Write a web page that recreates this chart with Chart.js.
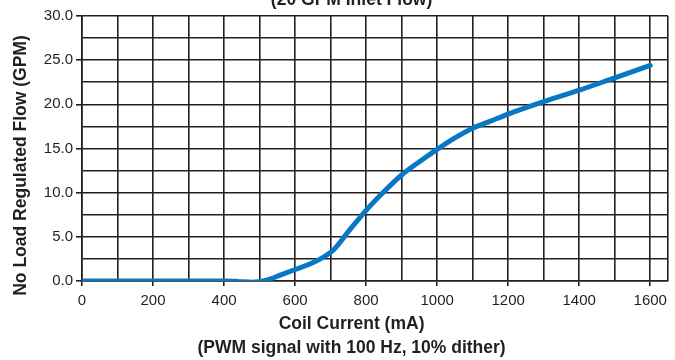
<!DOCTYPE html>
<html>
<head>
<meta charset="utf-8">
<script src="https://cdn.jsdelivr.net/npm/chart.js@4"></script>
<style>
  html, body { margin:0; padding:0; background:#fff; }
  #wrap { position:relative; width:675px; height:360px; }
</style>
</head>
<body>
<div id="wrap"><canvas id="chartFlow"></canvas></div>
<script>
/* -------- data -------- */
const currentMA = [0, 100, 200, 300, 400, 440, 480, 520, 560, 600, 640, 680, 710, 750,
                   800, 850, 900, 950, 1000, 1050, 1100, 1150, 1200, 1300, 1400, 1500, 1600];
const flowGPM   = [0, 0, 0, 0, 0, -0.05, -0.15, 0.1, 0.7, 1.3, 1.9, 2.7, 3.6, 5.6,
                   8.0, 10.1, 12.0, 13.5, 14.9, 16.2, 17.3, 18.1, 18.9, 20.3, 21.6, 23.0, 24.4];

const X_MIN = 0, X_MAX = 1650, X_STEP = 100, X_LABEL_STEP = 200, X_LAST_LABEL = 1600;
const Y_MIN = 0, Y_MAX = 30,   Y_STEP = 2.5, Y_LABEL_STEP = 5;

const TITLE   = '(20 GPM Inlet Flow)';
const Y_TITLE = 'No Load Regulated Flow (GPM)';
const X_TITLE = ['Coil Current (mA)', '(PWM signal with 100 Hz, 10% dither)'];

const inkClr  = '#231f20';
const lineClr = '#0878c4';
const bold    = 'bold 17.5px "Liberation Sans", Arial, sans-serif';
const tickFont = { family:'"Liberation Sans", Arial, sans-serif', size:15 };
const clear   = 'rgba(0,0,0,0)';

const $ = id => document.getElementById(id);
const isXLabel = v => v % X_LABEL_STEP === 0 && v <= X_LAST_LABEL;

/* -------- titles drawn on the canvas -------- */
const titlesPlugin = {
  id:'titles',
  afterDraw(chart) {
    const ctx = chart.ctx, a = chart.chartArea;
    ctx.save();
    ctx.fillStyle = inkClr;
    ctx.font = bold;
    ctx.textAlign = 'center';
    ctx.textBaseline = 'alphabetic';
    const cx = a.left + (a.right - a.left) * 0.46;
    ctx.fillText(TITLE, cx, 5);
    ctx.textBaseline = 'middle';
    ctx.fillText(X_TITLE[0], cx, 324);
    ctx.fillText(X_TITLE[1], cx, 348);
    ctx.translate(21, (a.top + a.bottom) / 2 + 17);
    ctx.rotate(-Math.PI / 2);
    ctx.fillText(Y_TITLE, 0, 0);
    ctx.restore();
  },
};

new Chart($('chartFlow'), {
  type:'line',
  data:{ datasets:[{
    data: currentMA.map((x, i) => ({ x, y: flowGPM[i] })),
    borderColor: lineClr, borderWidth: 5, borderCapStyle:'round', borderJoinStyle:'round',
    cubicInterpolationMode:'monotone', pointRadius:0, fill:false,
  }]},
  options:{
    responsive:true, maintainAspectRatio:false, animation:false,
    layout:{ padding:{ top:16, right:7, left:0, bottom:0 } },
    plugins:{ legend:{ display:false }, tooltip:{ enabled:false } },
    scales:{
      x:{ type:'linear', min:X_MIN, max:X_MAX,
          afterFit: s => { s.height = 79; },
          afterBuildTicks: s => {
            const t = [];
            for (let v = X_MIN; v <= X_LAST_LABEL; v += X_STEP) t.push({ value:v });
            t.push({ value:X_MAX });
            s.ticks = t;
          },
          ticks:{ autoSkip:false, maxRotation:0, color:inkClr, font:tickFont, padding:6,
                  callback: v => isXLabel(v) ? v : '' },
          grid:{ color:inkClr, lineWidth:1.6, tickLength:5,
                 tickColor: c => (c.tick && isXLabel(c.tick.value)) ? inkClr : clear },
          border:{ color:inkClr, width:1.6 } },
      y:{ min:Y_MIN, max:Y_MAX,
          afterFit: s => { s.width = 82; },
          ticks:{ stepSize:Y_STEP, autoSkip:false, color:inkClr, font:tickFont, padding:3,
                  callback: v => v % Y_LABEL_STEP === 0 ? v.toFixed(1) : '' },
          grid:{ color:inkClr, lineWidth:1.6, tickLength:6,
                 tickColor: c => (c.tick && c.tick.value % Y_LABEL_STEP === 0) ? inkClr : clear },
          border:{ color:inkClr, width:1.6 } },
    },
  },
  plugins:[titlesPlugin],
});
</script>
</body>
</html>
